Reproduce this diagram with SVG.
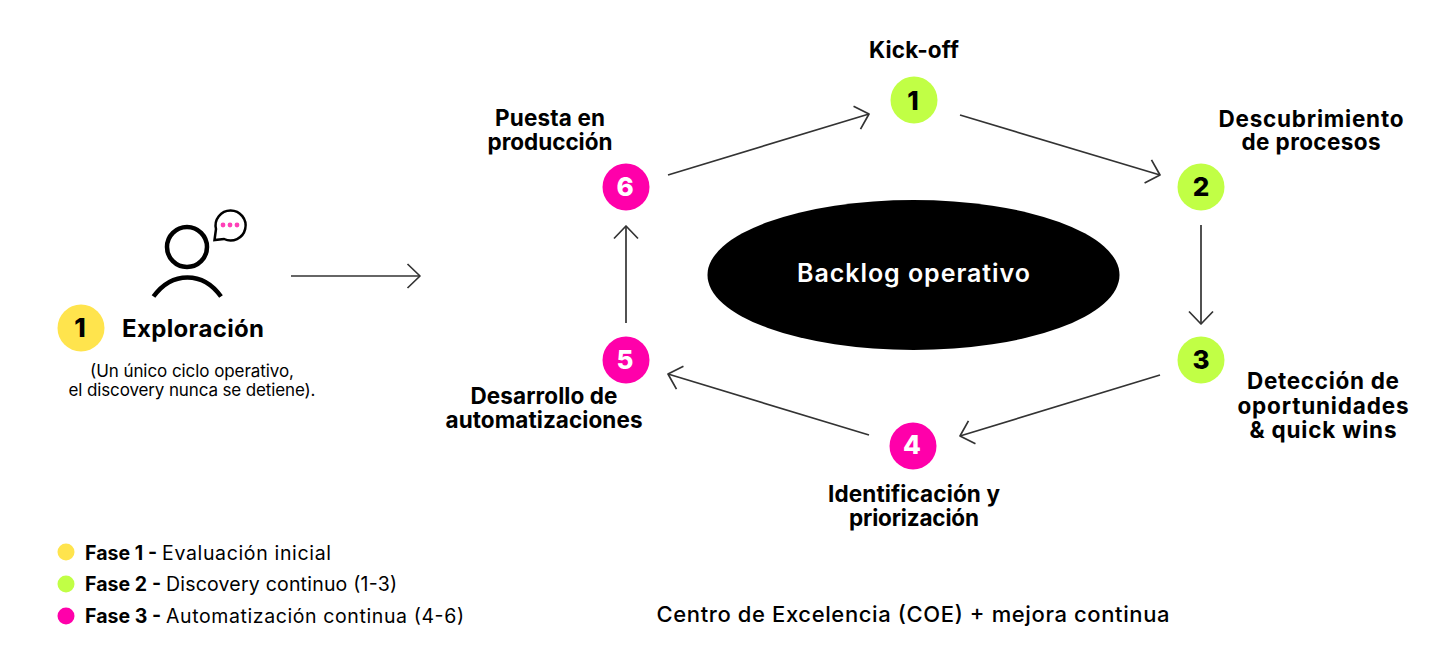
<svg xmlns="http://www.w3.org/2000/svg" width="1447" height="657" viewBox="0 0 1447 657">
<style>
text{font-family:Inter,"Noto Sans","Liberation Sans",sans-serif;fill:#000}
.b{font-weight:700;font-size:22.500px;text-anchor:middle}
.n{font-weight:800;font-size:26px;text-anchor:middle}
.w{fill:#fff}
.r{font-weight:400;font-size:17px;text-anchor:middle}
.l{font-size:19.500px;font-weight:400}
.f{font-size:19.500px;font-weight:700}
.y{fill:#ffe44d}.g{fill:#c1ff45}.m{fill:#ff00aa}
.c line{stroke:#333;stroke-width:1.700;fill:none}
</style>
<defs>
<marker id="a" markerUnits="userSpaceOnUse" viewBox="-16 -14 20 28" refX="0" refY="0" markerWidth="20" markerHeight="28" orient="auto"><path d="M-12.500 -12L0 0L-12.500 12" fill="none" stroke="#333" stroke-width="1.700" stroke-linejoin="round"/></marker>
</defs>
<rect width="1447" height="657" fill="#fff"/>
<g id="connectors" class="c">
<line x1="291" y1="276" x2="420" y2="276" marker-end="url(#a)"/>
<line x1="668" y1="175" x2="869" y2="114" marker-end="url(#a)"/>
<line x1="960" y1="115" x2="1160" y2="175" marker-end="url(#a)"/>
<line x1="1201" y1="225" x2="1201" y2="324" marker-end="url(#a)"/>
<line x1="1160" y1="375" x2="960" y2="436" marker-end="url(#a)"/>
<line x1="869" y1="435" x2="668" y2="374" marker-end="url(#a)"/>
<line x1="626" y1="323" x2="626" y2="226" marker-end="url(#a)"/>
</g>
<g id="user-icon">
<circle cx="187" cy="247" r="20" fill="none" stroke="#000" stroke-width="4.500"/>
<path d="M153.500 296.500C172 271 203 271 221 296.500" fill="none" stroke="#000" stroke-width="4.500"/>
<path d="M214.500 240L216 229A15 15 0 1 1 224 239Z" fill="#fff" stroke="#000" stroke-width="2.500"/>
<circle cx="223" cy="225" r="2.400" fill="#ff40b8"/><circle cx="230" cy="225" r="2.400" fill="#ff40b8"/><circle cx="237" cy="225" r="2.400" fill="#ff40b8"/>
</g>
<g id="exploracion">
<circle cx="81" cy="328" r="23.500" class="y"/>
<text x="80" y="337" class="n">1</text>
<text x="193" y="337" class="b" style="font-size:24px" textLength="142">Exploración</text>
<text class="r"><tspan x="192" y="377" textLength="204">(Un único ciclo operativo,</tspan><tspan x="192" y="396" textLength="247">el discovery nunca se detiene).</tspan></text>
</g>
<g id="backlog">
<ellipse cx="913.500" cy="275" rx="206" ry="75"/>
<text x="913.500" y="282" class="b w" style="font-size:25px;font-weight:600" textLength="233">Backlog operativo</text>
</g>
<g id="n1"><circle cx="914" cy="100" r="23.500" class="g"/><text x="913" y="110" class="n">1</text>
<text x="914" y="58" class="b" textLength="90">Kick-off</text></g>
<g id="n2"><circle cx="1201" cy="187" r="23.500" class="g"/><text x="1201" y="196" class="n">2</text>
<text class="b"><tspan x="1311" y="127" textLength="185">Descubrimiento</tspan><tspan x="1311" y="150" textLength="139">de procesos</tspan></text></g>
<g id="n3"><circle cx="1201" cy="360" r="23.500" class="g"/><text x="1201" y="369" class="n">3</text>
<text class="b"><tspan x="1323" y="389" textLength="152">Detección de</tspan><tspan x="1323" y="414" textLength="171">oportunidades</tspan><tspan x="1323" y="438" textLength="147">&amp; quick wins</tspan></text></g>
<g id="n4"><circle cx="913" cy="446" r="23.500" class="m"/><text x="912" y="454" class="n w">4</text>
<text class="b"><tspan x="914" y="502" textLength="172">Identificación y</tspan><tspan x="914" y="526" textLength="130">priorización</tspan></text></g>
<g id="n5"><circle cx="626" cy="360" r="23.500" class="m"/><text x="625" y="369" class="n w">5</text>
<text class="b"><tspan x="544" y="404" textLength="147">Desarrollo de</tspan><tspan x="544" y="428" textLength="197">automatizaciones</tspan></text></g>
<g id="n6"><circle cx="626" cy="187" r="23.500" class="m"/><text x="625" y="196" class="n w">6</text>
<text class="b"><tspan x="550" y="126" textLength="110">Puesta en</tspan><tspan x="550" y="150" textLength="125">producción</tspan></text></g>
<g id="legend">
<circle cx="66" cy="552" r="8.500" class="y"/>
<text x="85" y="560" class="f" textLength="72">Fase 1 -</text><text x="162" y="560" class="l" textLength="169">Evaluación inicial</text>
<circle cx="66" cy="584" r="8.500" class="g"/>
<text x="85" y="591" class="f" textLength="76">Fase 2 -</text><text x="166" y="591" class="l" textLength="231">Discovery continuo (1-3)</text>
<circle cx="66" cy="616" r="8.500" class="m"/>
<text x="85" y="623" class="f" textLength="76">Fase 3 -</text><text x="166" y="623" class="l" textLength="298">Automatización continua (4-6)</text>
</g>
<text id="coe" x="913" y="622" style="font-size:22px;font-weight:500;text-anchor:middle" textLength="513">Centro de Excelencia (COE) + mejora continua</text>
</svg>
